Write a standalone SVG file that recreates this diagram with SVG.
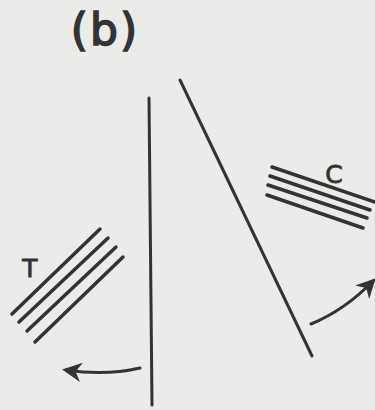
<svg xmlns="http://www.w3.org/2000/svg" width="375" height="410" viewBox="0 0 375 410">
<style>
.ln{stroke:#333;stroke-width:3;stroke-linecap:round;fill:none}
.pl{stroke:#333;stroke-width:3.5;stroke-linecap:round;fill:none}
.lbl{font-family:"DejaVu Sans",sans-serif;fill:#333;stroke:#333;text-anchor:middle}
</style>
<defs>
<marker id="ah" viewBox="0 0 10 10" refX="8" refY="5" markerWidth="6.5" markerHeight="6.5" orient="auto" markerUnits="strokeWidth">
<path d="M0,0 L10,5 L0,10 L3,5 Z" fill="#333"/>
</marker>
</defs>
<rect width="375" height="410" fill="#ebebe9"/>
<text x="105" y="45" class="lbl" font-size="44" stroke-width="1.6" letter-spacing="2">(b)</text>
<g id="polarizer-vertical"><path class="ln" d="M149,98 L152,405"/></g>
<g id="polarizer-diagonal"><path class="ln" d="M180,80 L312,356"/></g>
<g id="T">
<path class="pl" d="M100,229 L12,314 M108,238 L19,322 M116,247 L27,331 M123,257 L35,342"/>
<text x="30" y="277" class="lbl" font-size="25" stroke-width="0.8">T</text>
</g>
<g id="C">
<path class="pl" d="M272,167 L375,202 M270,176 L370,210 M268,185 L367,218 M267,195 L363,228"/>
<text x="334" y="183" class="lbl" font-size="25" stroke-width="0.8">C</text>
</g>
<g id="connectors">
<path class="ln" d="M140,368 Q105,376 66,370" marker-end="url(#ah)"/>
<path class="ln" d="M311,324 Q345,310 373,281" marker-end="url(#ah)"/>
</g>
</svg>
